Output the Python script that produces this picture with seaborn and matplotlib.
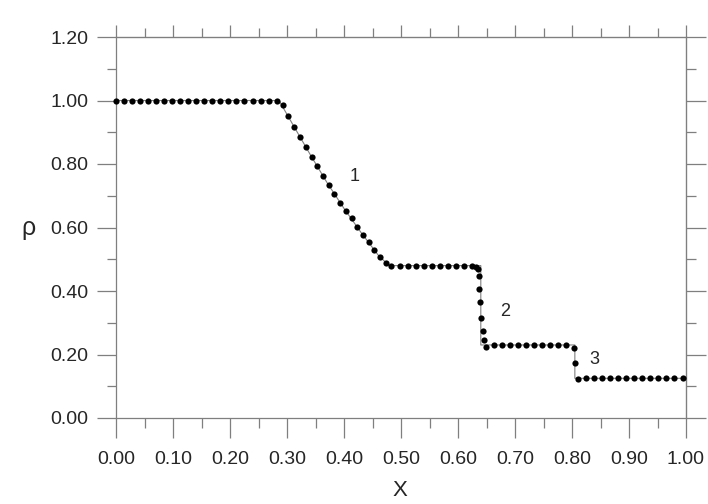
import numpy as np
import pandas as pd
import matplotlib
matplotlib.use("Agg")
import matplotlib.pyplot as plt
import seaborn as sns
from matplotlib.ticker import MultipleLocator, NullFormatter, FormatStrFormatter

# numerical solution (black dots)
x_num = [0.000, 0.014, 0.028, 0.042, 0.056, 0.070, 0.085, 0.099, 0.113, 0.127,
         0.141, 0.155, 0.169, 0.183, 0.197, 0.211, 0.225, 0.240, 0.254, 0.268,
         0.282,
         0.293, 0.302, 0.312, 0.323, 0.333, 0.343, 0.353, 0.363, 0.373, 0.383,
         0.393, 0.404, 0.414, 0.423, 0.433, 0.443, 0.453, 0.463, 0.473, 0.483,
         0.498, 0.512, 0.527, 0.541, 0.555, 0.569, 0.583, 0.597, 0.611, 0.625,
         0.631, 0.635, 0.636, 0.637, 0.639, 0.640, 0.643, 0.646, 0.649,
         0.664, 0.678, 0.692, 0.706, 0.720, 0.734, 0.748, 0.762, 0.776, 0.790,
         0.804, 0.806, 0.810,
         0.825, 0.839, 0.853, 0.867, 0.881, 0.895, 0.909, 0.923, 0.937, 0.951,
         0.965, 0.979, 0.994]
rho_num = [1.000, 1.000, 1.000, 1.000, 1.000, 1.000, 1.000, 1.000, 1.000, 1.000,
           1.000, 1.000, 1.000, 1.000, 1.000, 1.000, 1.000, 1.000, 1.000, 1.000,
           1.000,
           0.987, 0.952, 0.918, 0.885, 0.853, 0.823, 0.793, 0.763, 0.733, 0.705,
           0.678, 0.652, 0.629, 0.603, 0.576, 0.553, 0.529, 0.508, 0.487, 0.480,
           0.478, 0.478, 0.478, 0.478, 0.478, 0.478, 0.478, 0.478, 0.478, 0.478,
           0.477, 0.470, 0.447, 0.406, 0.364, 0.314, 0.275, 0.246, 0.224,
           0.230, 0.230, 0.230, 0.230, 0.230, 0.230, 0.230, 0.230, 0.230, 0.230,
           0.219, 0.172, 0.124,
           0.125, 0.125, 0.125, 0.125, 0.125, 0.125, 0.125, 0.125, 0.125, 0.125,
           0.125, 0.125, 0.125]

# exact solution (thin grey line)
x_exact = [0.000, 0.286, 0.310, 0.340, 0.370, 0.400, 0.430, 0.460, 0.479,
           0.640, 0.640, 0.805, 0.805, 1.000]
rho_exact = [1.000, 1.000, 0.925, 0.832, 0.742, 0.660, 0.584, 0.513, 0.480,
             0.480, 0.230, 0.230, 0.125, 0.125]

# wave labels
wave_labels = ['1', '2', '3']
wave_x = [0.419, 0.682, 0.839]
wave_y = [0.762, 0.336, 0.183]

x_ticks = [0.0, 0.1, 0.2, 0.3, 0.4, 0.5, 0.6, 0.7, 0.8, 0.9, 1.0]
y_ticks = [0.0, 0.2, 0.4, 0.6, 0.8, 1.0, 1.2]

num_df = pd.DataFrame({'x': x_num, 'rho': rho_num})
exact_df = pd.DataFrame({'x': x_exact, 'rho': rho_exact})

sns.set_style("white")
plt.rcParams['font.family'] = ['Liberation Sans', 'DejaVu Sans']

axis_grey = '#7f7f7f'

fig = plt.figure(figsize=(7.08, 5.04), dpi=100)
ax = fig.add_axes([116 / 708, 86 / 504, 570 / 708, 381 / 504])

sns.lineplot(data=exact_df, x='x', y='rho', sort=False, estimator=None,
             color='#808080', linewidth=0.8, ax=ax)
sns.scatterplot(data=num_df, x='x', y='rho', color='black', s=20,
                linewidth=0, zorder=3, ax=ax, clip_on=False)

for lab, lx, ly in zip(wave_labels, wave_x, wave_y):
    ax.text(lx, ly, lab, fontsize=13, ha='center', va='center')

ax.set_xlim(0, 1)
ax.set_ylim(0, 1.2)
ax.set_xticks(x_ticks)
ax.set_yticks(y_ticks)
ax.xaxis.set_minor_locator(MultipleLocator(0.05))
ax.yaxis.set_minor_locator(MultipleLocator(0.1))
ax.xaxis.set_major_formatter(FormatStrFormatter('%.2f'))
ax.yaxis.set_major_formatter(FormatStrFormatter('%.2f'))

ax.tick_params(which='both', direction='out', color=axis_grey, width=0.9,
               labelsize=14, bottom=True, left=True, top=False, right=False)
ax.tick_params(axis='x', which='major', length=14.4, pad=9.5)
ax.tick_params(axis='x', which='minor', length=7.2)
ax.tick_params(axis='y', which='major', length=13.7, pad=6)
ax.tick_params(axis='y', which='minor', length=6.5)
for sp in ax.spines.values():
    sp.set_color(axis_grey)
    sp.set_linewidth(0.9)

# top and right axes with their own ticks
top = ax.secondary_xaxis('top')
top.set_xticks(x_ticks)
top.xaxis.set_minor_locator(MultipleLocator(0.05))
top.xaxis.set_major_formatter(NullFormatter())
top.tick_params(which='both', direction='out', color=axis_grey, width=0.9, top=True)
top.tick_params(which='major', length=8.6)
top.tick_params(which='minor', length=6.5)
top.spines['top'].set_color(axis_grey)

right = ax.secondary_yaxis('right')
right.set_yticks(y_ticks)
right.yaxis.set_minor_locator(MultipleLocator(0.1))
right.yaxis.set_major_formatter(NullFormatter())
right.tick_params(which='both', direction='out', color=axis_grey, width=0.9, right=True)
right.tick_params(which='major', length=14.4)
right.tick_params(which='minor', length=7.2)
right.spines['right'].set_color(axis_grey)

ax.set_xlabel('X', fontsize=16)
ax.xaxis.set_label_coords(0.498, -0.189)
ax.xaxis.label.set_va('center')
ax.set_ylabel('ρ', fontsize=18, rotation=0)
ax.yaxis.set_label_coords(-0.154, 0.499)
ax.yaxis.label.set_va('center')
ax.yaxis.label.set_ha('center')

fig.savefig('out.png', dpi=100)
